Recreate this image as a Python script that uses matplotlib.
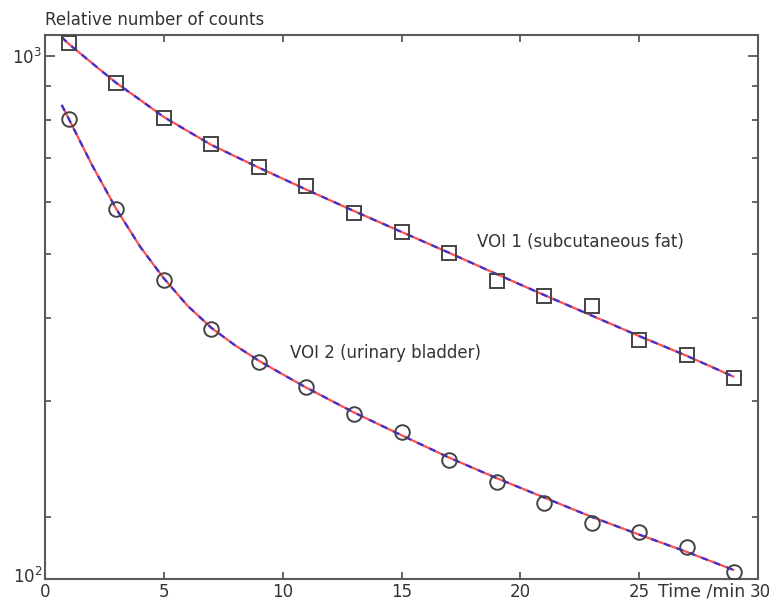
import matplotlib
matplotlib.use("Agg")
import matplotlib.pyplot as plt
import matplotlib.transforms as mtransforms
from matplotlib.ticker import NullFormatter, NullLocator

# ---- data ----
time_points = [1, 3, 5, 7, 9, 11, 13, 15, 17, 19, 21, 23, 25, 27, 29]
voi1_counts = [1045, 911, 806, 736, 679, 635, 578, 541, 503, 456, 433, 417, 371, 352, 325]
voi2_counts = [803, 586, 458, 385, 344, 315, 286, 269, 244, 226, 210, 196, 190, 180, 165]

fit1_time = [0.7, 1, 2, 3, 4, 5, 7, 9, 11, 13, 15, 17, 19, 21, 23, 25, 27, 29]
fit1_counts = [1068, 1043, 974, 910, 858, 808, 733, 677, 627, 582, 541, 503, 467, 434, 404, 376, 351, 326]

fit2_time = [0.7, 1, 2, 3, 4, 5, 6, 7, 8, 9, 10, 11, 13, 15, 17, 19, 21, 23, 25, 27, 29]
fit2_counts = [843, 803, 681, 586, 514, 460, 418, 387, 364, 345, 329, 314, 288, 266, 246, 229, 214, 200, 188, 177, 166]

x_ticks = [0, 5, 10, 15, 20, 25, 30]
x_tick_labels = ["0", "5", "10", "15", "20", "25", "30"]
y_minor_ticks = [200, 300, 400, 500, 600, 700, 800, 900]

# ---- figure ----
W, H = 772, 603
fig = plt.figure(figsize=(W / 100, H / 100), dpi=100)
ax = fig.add_axes([45 / W, 1 - 579 / H, (758 - 45) / W, (579 - 35) / H])

text_color = "#333333"
spine_color = "#5a5a5a"
marker_color = "#444444"

for t, c in [(fit1_time, fit1_counts), (fit2_time, fit2_counts)]:
    ax.plot(t, c, color="#ff4f4f", lw=1.6, solid_capstyle="butt", zorder=2)
    ax.plot(t, c, color="#3a32d8", lw=1.6, dashes=(3, 3), zorder=3)

ax.plot(time_points, voi1_counts, linestyle="none", marker="s", ms=10,
        mfc="none", mec=marker_color, mew=1.4, zorder=4)
ax.plot(time_points, voi2_counts, linestyle="none", marker="o", ms=10.5,
        mfc="none", mec=marker_color, mew=1.4, zorder=4)

ax.set_yscale("log")
ax.set_xlim(0, 30)
ax.set_ylim(161, 1076)

ax.set_xticks(x_ticks)
ax.set_xticklabels(x_tick_labels)
ax.set_yticks([161, 1000])
ax.set_yticklabels(["$10^2$", "$10^3$"])
ax.set_yticks(y_minor_ticks, minor=True)
ax.yaxis.set_minor_formatter(NullFormatter())
ax.xaxis.set_minor_locator(NullLocator())

ax.tick_params(axis="both", which="both", direction="in", top=True, right=True,
               colors=spine_color, labelcolor=text_color, labelsize=12, width=1.3)
ax.tick_params(axis="y", which="major", length=7, pad=2)
ax.tick_params(axis="y", which="minor", length=4)
ax.tick_params(axis="x", which="major", length=5, pad=3)

for s in ax.spines.values():
    s.set_color(spine_color)
    s.set_linewidth(1.5)

# small offsets so the crowded corner labels do not collide
xlabels = ax.get_xticklabels()
xlabels[-1].set_transform(xlabels[-1].get_transform() +
                          mtransforms.ScaledTranslation(2.5 / 100, 0, fig.dpi_scale_trans))
ylabels = ax.get_yticklabels()
ylabels[0].set_transform(ylabels[0].get_transform() +
                         mtransforms.ScaledTranslation(0, 4 / 100, fig.dpi_scale_trans))

fig.text(45 / W, 1 - 20 / H, "Relative number of counts", fontsize=12,
         color=text_color, ha="left", va="center")
fig.text(745 / W, 1 - 592 / H, "Time /min", fontsize=12.5, color=text_color,
         ha="right", va="center")

ax.text(18.17, 522, "VOI 1 (subcutaneous fat)", fontsize=12, color=text_color,
        ha="left", va="center")
ax.text(10.31, 355, "VOI 2 (urinary bladder)", fontsize=12, color=text_color,
        ha="left", va="center")

fig.savefig("out.png", dpi=100)
